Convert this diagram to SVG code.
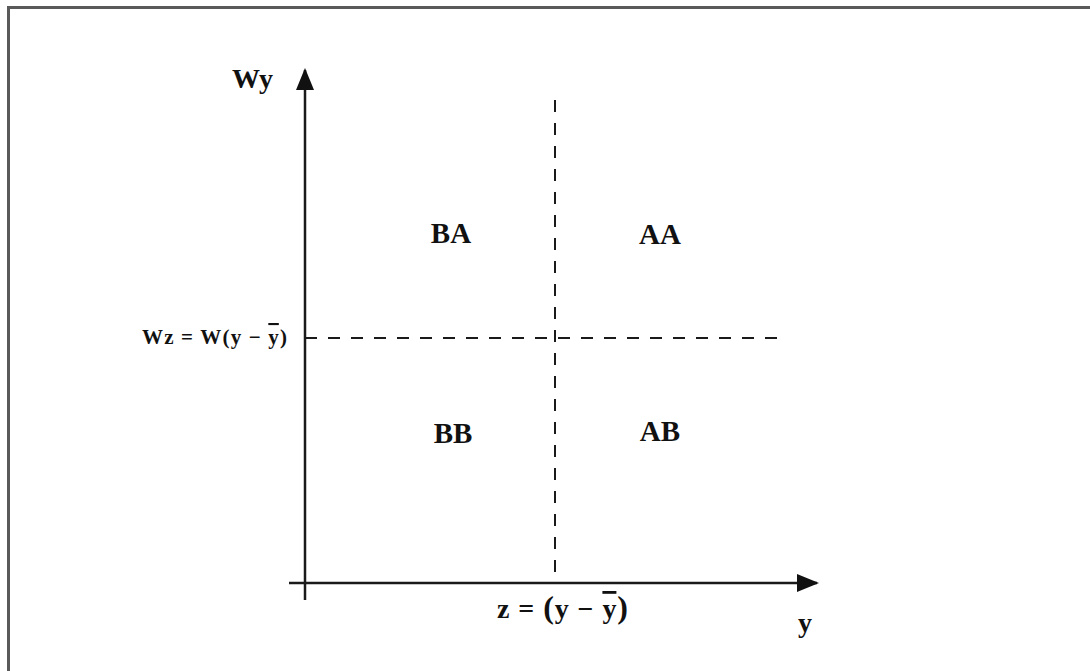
<svg xmlns="http://www.w3.org/2000/svg" width="1090" height="671" viewBox="0 0 1090 671">
<style>
text{font-family:"Liberation Serif","Times New Roman",serif;font-weight:bold;fill:#111}
.axis{stroke:#1a1a1a;stroke-width:2.5;fill:none}
.dash{stroke:#1a1a1a;stroke-width:2;stroke-dasharray:12 11;fill:none}
.frame{stroke:#5a5a5a;stroke-width:3;fill:none}
.q{font-size:29px;text-anchor:middle}
</style>
<defs>
<marker id="arr" viewBox="0 0 22 18" refX="20" refY="9" markerWidth="22" markerHeight="18" markerUnits="userSpaceOnUse" orient="auto">
<path d="M0,0 L22,9 L0,18 Z" fill="#111"/>
</marker>
</defs>
<rect width="1090" height="671" fill="#fff"/>
<path class="frame" d="M8.5,671 V7.5 H1090"/>
<g id="connectors">
<line class="axis" x1="305" y1="600" x2="305" y2="70" marker-end="url(#arr)"/>
<line class="axis" x1="289" y1="583" x2="817" y2="583" marker-end="url(#arr)"/>
<line class="dash" x1="555" y1="100" x2="555" y2="583"/>
<line class="dash" x1="305" y1="338" x2="782" y2="338"/>
</g>
<g id="label-wy"><text x="232" y="88" font-size="28">Wy</text></g>
<g id="label-wz"><text x="142" y="344" font-size="21" textLength="145" lengthAdjust="spacing">Wz = W(y − <tspan text-decoration="overline">y</tspan>)</text></g>
<g id="BA"><text class="q" x="451" y="243">BA</text></g>
<g id="AA"><text class="q" x="660" y="244">AA</text></g>
<g id="BB"><text class="q" x="453" y="443">BB</text></g>
<g id="AB"><text class="q" x="660" y="441">AB</text></g>
<g id="label-z"><text x="497" y="618" font-size="28" textLength="131" lengthAdjust="spacing">z = <tspan font-size="32">(</tspan>y − <tspan text-decoration="overline">y</tspan><tspan font-size="32">)</tspan></text></g>
<g id="label-y"><text x="798" y="632" font-size="28">y</text></g>
</svg>
